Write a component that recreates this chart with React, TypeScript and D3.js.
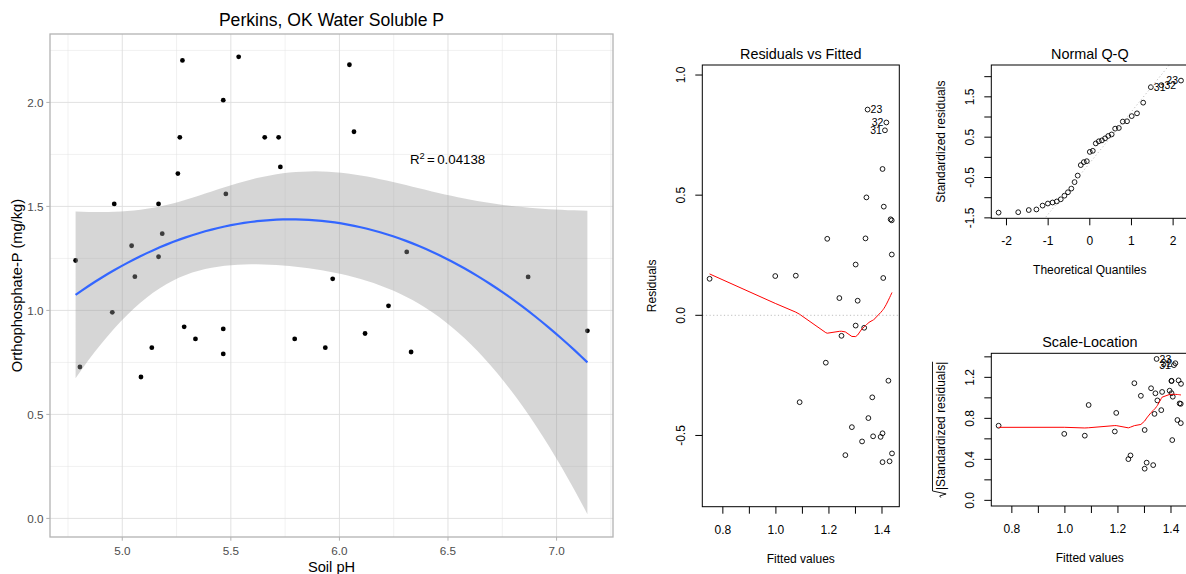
import React, { useMemo } from "react";
import * as d3 from "d3";

// Perkins, OK plots: soil pH and water-soluble orthophosphate-P (mg/kg), in plot order
const soilPH = [
  4.785, 4.805, 4.954, 4.963, 5.043, 5.058, 5.086, 5.136, 5.167, 5.167,
  5.184, 5.256, 5.265, 5.285, 5.337, 5.465, 5.477, 5.465, 5.465, 5.656,
  5.72, 5.728, 5.277, 5.794, 5.935, 5.969, 6.067, 6.118, 6.226, 6.31,
  6.046, 5.536, 6.33, 6.869, 7.142,
];
const orthoP = [
  1.24, 0.728, 0.991, 1.512, 1.311, 1.162, 0.68, 0.821, 1.512, 1.258,
  1.369, 1.658, 1.832, 0.921, 0.863, 2.011, 1.56, 0.911, 0.791, 1.832,
  1.832, 1.69, 2.202, 0.863, 0.821, 1.152, 1.859, 0.889, 1.022, 1.281,
  2.181, 2.219, 0.8, 1.161, 0.902,
];

const plotTitle = "Perkins, OK Water Soluble P";
const rSquaredText = "0.04138";

// scatter panel breaks
const phMajor = [5.0, 5.5, 6.0, 6.5, 7.0];
const phMinor = [4.75, 5.25, 5.75, 6.25, 6.75, 7.25];
const pMajor = [0, 0.5, 1.0, 1.5, 2.0];
const pMinor = [0.25, 0.75, 1.25, 1.75, 2.25];

// diagnostic panel axes
const fittedTicks = [0.8, 0.9, 1.0, 1.1, 1.2, 1.3, 1.4];
const fittedLabels = [0.8, 1.0, 1.2, 1.4];
const residTicks = [-0.5, 0, 0.5, 1.0];
const quantTicks = [-2, -1, 0, 1, 2];
const stdResTicks = [-1.5, -1, -0.5, 0, 0.5, 1, 1.5, 2];
const stdResLabels = [-1.5, -0.5, 0.5, 1.5];
const sqrtTicks = [0, 0.2, 0.4, 0.6, 0.8, 1.0, 1.2, 1.4];
const sqrtLabels = [0, 0.4, 0.8, 1.2];

const ID_N = 3;
const T_CRIT = 2.0369; // qt(0.975, df = 32)

const FONT = "'Liberation Sans', Arial, sans-serif";

type Box = { x0: number; x1: number; y0: number; y1: number };

function invert3(m: number[][]): number[][] {
  const [a, b, c] = m[0];
  const [d, e, f] = m[1];
  const [g, h, i] = m[2];
  const A = e * i - f * h, B = -(d * i - f * g), C = d * h - e * g;
  const det = a * A + b * B + c * C;
  return [
    [A / det, -(b * i - c * h) / det, (b * f - c * e) / det],
    [B / det, (a * i - c * g) / det, -(a * f - c * d) / det],
    [C / det, -(a * h - b * g) / det, (a * e - b * d) / det],
  ];
}

// inverse normal CDF (Acklam)
function qnorm(p: number): number {
  const a = [-3.969683028665376e1, 2.209460984245205e2, -2.759285104469687e2, 1.38357751867269e2, -3.066479806614716e1, 2.506628277459239];
  const b = [-5.447609879822406e1, 1.615858368580409e2, -1.556989798598866e2, 6.680131188771972e1, -1.328068155288572e1];
  const c = [-7.784894002430293e-3, -3.223964580411365e-1, -2.400758277161838, -2.549732539343734, 4.374664141464968, 2.938163982698783];
  const d = [7.784695709041462e-3, 3.224671290700398e-1, 2.445134137142996, 3.754408661907416];
  const pl = 0.02425;
  if (p < pl) {
    const q = Math.sqrt(-2 * Math.log(p));
    return (((((c[0] * q + c[1]) * q + c[2]) * q + c[3]) * q + c[4]) * q + c[5]) / ((((d[0] * q + d[1]) * q + d[2]) * q + d[3]) * q + 1);
  }
  if (p > 1 - pl) {
    const q = Math.sqrt(-2 * Math.log(1 - p));
    return -(((((c[0] * q + c[1]) * q + c[2]) * q + c[3]) * q + c[4]) * q + c[5]) / ((((d[0] * q + d[1]) * q + d[2]) * q + d[3]) * q + 1);
  }
  const q = p - 0.5, r = q * q;
  return ((((((a[0] * r + a[1]) * r + a[2]) * r + a[3]) * r + a[4]) * r + a[5]) * q) / (((((b[0] * r + b[1]) * r + b[2]) * r + b[3]) * r + b[4]) * r + 1);
}

// locally weighted scatterplot smoothing, as in clowess
function lowess(xIn: number[], yIn: number[], f = 2 / 3, nsteps = 3): [number, number][] {
  const order = d3.range(xIn.length).sort((p, q) => xIn[p] - xIn[q]);
  const x = order.map((k) => xIn[k]);
  const y = order.map((k) => yIn[k]);
  const n = x.length;
  const delta = 0.01 * (x[n - 1] - x[0]);
  const ns = Math.max(2, Math.min(n, Math.floor(f * n + 1e-7)));
  const ys = new Array(n).fill(0);
  const rw = new Array(n).fill(1);
  const res = new Array(n).fill(0);
  const w = new Array(n).fill(0);
  const range = x[n - 1] - x[0];

  const lowest = (xs: number, nleft: number, nright: number, userw: boolean): number | null => {
    const h = Math.max(xs - x[nleft], x[nright] - xs);
    const h9 = 0.999 * h, h1 = 0.001 * h;
    let a = 0;
    let j = nleft;
    while (j < n) {
      w[j] = 0;
      const r = Math.abs(x[j] - xs);
      if (r <= h9) {
        w[j] = r <= h1 ? 1 : Math.pow(1 - Math.pow(r / h, 3), 3);
        if (userw) w[j] *= rw[j];
        a += w[j];
      } else if (x[j] > xs) break;
      j++;
    }
    const nrt = j - 1;
    if (a <= 0) return null;
    for (let k = nleft; k <= nrt; k++) w[k] /= a;
    if (h > 0) {
      let ctr = 0;
      for (let k = nleft; k <= nrt; k++) ctr += w[k] * x[k];
      let bb = xs - ctr;
      let cc = 0;
      for (let k = nleft; k <= nrt; k++) cc += w[k] * (x[k] - ctr) * (x[k] - ctr);
      if (Math.sqrt(cc) > 0.001 * range) {
        bb /= cc;
        for (let k = nleft; k <= nrt; k++) w[k] *= bb * (x[k] - ctr) + 1;
      }
    }
    let out = 0;
    for (let k = nleft; k <= nrt; k++) out += w[k] * y[k];
    return out;
  };

  for (let iter = 1; iter <= nsteps + 1; iter++) {
    let nleft = 0, nright = ns - 1, last = -1, i = 0;
    for (;;) {
      if (nright < n - 1) {
        const d1 = x[i] - x[nleft];
        const d2 = x[nright + 1] - x[i];
        if (d1 > d2) {
          nleft++;
          nright++;
          continue;
        }
      }
      const v = lowest(x[i], nleft, nright, iter > 1);
      ys[i] = v === null ? y[i] : v;
      if (last < i - 1) {
        const denom = x[i] - x[last];
        for (let j = last + 1; j < i; j++) {
          const alpha = (x[j] - x[last]) / denom;
          ys[j] = alpha * ys[i] + (1 - alpha) * ys[last];
        }
      }
      last = i;
      const cut = x[last] + delta;
      for (i = last + 1; i < n; i++) {
        if (x[i] > cut) break;
        if (x[i] === x[last]) {
          ys[i] = ys[last];
          last = i;
        }
      }
      i = Math.max(last + 1, i - 1);
      if (last >= n - 1) break;
    }
    for (let k = 0; k < n; k++) res[k] = y[k] - ys[k];
    const sc = d3.sum(res, (r) => Math.abs(r)) / n;
    if (iter > nsteps) break;
    const absr = res.map((r) => Math.abs(r));
    const sorted = absr.slice().sort((p, q) => p - q);
    const m1 = Math.floor(n / 2);
    const cmad = n % 2 === 0 ? 3 * (sorted[m1] + sorted[n - m1 - 1]) : 6 * sorted[m1];
    if (cmad < 1e-7 * sc) break;
    const c9 = 0.999 * cmad, c1 = 0.001 * cmad;
    for (let k = 0; k < n; k++) {
      const r = absr[k];
      rw[k] = r <= c1 ? 1 : r <= c9 ? Math.pow(1 - Math.pow(r / cmad, 2), 2) : 0;
    }
  }
  return x.map((xv, k) => [xv, ys[k]] as [number, number]);
}

// quadratic least-squares fit of P on pH, with leverages and a 95% band
function fitModel(xs: number[], ys: number[]) {
  const n = xs.length;
  const xm = d3.mean(xs) as number;
  const basis = (x: number) => [1, x - xm, (x - xm) * (x - xm)];
  const XtX = [[0, 0, 0], [0, 0, 0], [0, 0, 0]];
  const Xty = [0, 0, 0];
  xs.forEach((x, i) => {
    const bv = basis(x);
    for (let r = 0; r < 3; r++) {
      Xty[r] += bv[r] * ys[i];
      for (let c = 0; c < 3; c++) XtX[r][c] += bv[r] * bv[c];
    }
  });
  const inv = invert3(XtX);
  const coef = inv.map((row) => row[0] * Xty[0] + row[1] * Xty[1] + row[2] * Xty[2]);
  const predict = (x: number) => {
    const bv = basis(x);
    return coef[0] * bv[0] + coef[1] * bv[1] + coef[2] * bv[2];
  };
  const leverage = (x: number) => {
    const bv = basis(x);
    let s = 0;
    for (let r = 0; r < 3; r++) for (let c = 0; c < 3; c++) s += bv[r] * inv[r][c] * bv[c];
    return s;
  };
  const fitted = xs.map(predict);
  const resid = ys.map((y, i) => y - fitted[i]);
  const sigma = Math.sqrt(d3.sum(resid, (r) => r * r) / (n - 3));
  const stdRes = resid.map((r, i) => r / (sigma * Math.sqrt(1 - leverage(xs[i]))));
  const [lo, hi] = d3.extent(xs) as [number, number];
  const band = d3.range(80).map((k) => {
    const x = lo + ((hi - lo) * k) / 79;
    const fit = predict(x);
    const se = sigma * Math.sqrt(leverage(x));
    return { x, fit, lower: fit - T_CRIT * se, upper: fit + T_CRIT * se };
  });
  return { fitted, resid, stdRes, band };
}

const extend = (r: [number, number], f: number): [number, number] => {
  const d = r[1] - r[0];
  return [r[0] - f * d, r[1] + f * d];
};

function textWidth(str: string, size: number) {
  const ctx = typeof document !== "undefined" ? document.createElement("canvas").getContext("2d") : null;
  if (!ctx) return str.length * size * 0.5;
  ctx.font = `${size}px "Liberation Sans", Arial, sans-serif`;
  return ctx.measureText(str).width;
}

const fmt1 = (v: number) => v.toFixed(1);
const fmtInt = (v: number) => String(v);

type PanelProps = {
  id: string;
  box: Box;
  x: d3.ScaleLinear<number, number>;
  y: d3.ScaleLinear<number, number>;
  xTicks: number[];
  xLabels: number[];
  yTicks: number[];
  yLabels: number[];
  fmtX: (v: number) => string;
  fmtY: (v: number) => string;
  caption: string;
  xTitle: string;
  yTitle: React.ReactNode;
  children: React.ReactNode;
};

function BasePanel(p: PanelProps) {
  const { box, x, y } = p;
  const tick = 7;
  return (
    <g fontFamily={FONT} fill="#000">
      <defs>
        <clipPath id={p.id}>
          <rect x={box.x0} y={box.y0} width={box.x1 - box.x0} height={box.y1 - box.y0} />
        </clipPath>
      </defs>
      <g clipPath={`url(#${p.id})`}>{p.children}</g>
      <rect x={box.x0} y={box.y0} width={box.x1 - box.x0} height={box.y1 - box.y0} fill="none" stroke="#000" strokeWidth={1} />
      {p.xTicks.map((t) => (
        <line key={`xt${t}`} x1={x(t)} x2={x(t)} y1={box.y1} y2={box.y1 + tick} stroke="#000" />
      ))}
      {p.xLabels.map((t) => (
        <text key={`xl${t}`} x={x(t)} y={box.y1 + 27} textAnchor="middle" fontSize={12}>
          {p.fmtX(t)}
        </text>
      ))}
      {p.yTicks.map((t) => (
        <line key={`yt${t}`} x1={box.x0 - tick} x2={box.x0} y1={y(t)} y2={y(t)} stroke="#000" />
      ))}
      {p.yLabels.map((t) => (
        <text key={`yl${t}`} transform={`translate(${box.x0 - 17},${y(t)}) rotate(-90)`} textAnchor="middle" fontSize={12}>
          {p.fmtY(t)}
        </text>
      ))}
      <text x={(box.x0 + box.x1) / 2} y={box.y0 - 6} textAnchor="middle" fontSize={14.4}>
        {p.caption}
      </text>
      <text x={(box.x0 + box.x1) / 2} y={box.y1 + 56} textAnchor="middle" fontSize={12}>
        {p.xTitle}
      </text>
      <g transform={`translate(${box.x0 - 46},${(box.y0 + box.y1) / 2}) rotate(-90)`}>{p.yTitle}</g>
    </g>
  );
}

function idLabels(px: number[], py: number[], ids: number[], x: d3.ScaleLinear<number, number>, y: d3.ScaleLinear<number, number>) {
  const xs = ids.map((i) => px[i]);
  const mid = ((d3.min(xs) as number) + (d3.max(xs) as number)) / 2;
  return ids.map((i) => {
    const left = px[i] > mid;
    return (
      <text
        key={`id${i}`}
        x={x(px[i]) + (left ? -3 : 3)}
        y={y(py[i]) + 3.6}
        textAnchor={left ? "end" : "start"}
        fontSize={10.5}
        fontFamily={FONT}
      >
        {i + 1}
      </text>
    );
  });
}

export default function App() {
  const model = useMemo(() => fitModel(soilPH, orthoP), []);
  const { fitted, resid, stdRes, band } = model;
  const n = soilPH.length;

  // ---------- scatter with quadratic smooth ----------
  const gp = { left: 50, right: 613, top: 34, bottom: 537 };
  const phExt = d3.extent(soilPH) as [number, number];
  const gx = d3.scaleLinear().domain(extend(phExt, 0.05)).range([gp.left, gp.right]);
  const pLo = Math.min(d3.min(orthoP) as number, d3.min(band, (d) => d.lower) as number);
  const pHi = Math.max(d3.max(orthoP) as number, d3.max(band, (d) => d.upper) as number);
  const gy = d3.scaleLinear().domain(extend([pLo, pHi], 0.05)).range([gp.bottom, gp.top]);
  const ribbon = d3
    .area<(typeof band)[number]>()
    .x((d) => gx(d.x))
    .y0((d) => gy(d.lower))
    .y1((d) => gy(d.upper))(band) as string;
  const fitLine = d3
    .line<(typeof band)[number]>()
    .x((d) => gx(d.x))
    .y((d) => gy(d.fit))(band) as string;

  // ---------- residuals vs fitted ----------
  const rfBox: Box = { x0: 702.3, x1: 899.3, y0: 65, y1: 506.7 };
  const fitExt = d3.extent(fitted) as [number, number];
  const rfx = d3.scaleLinear().domain(extend(fitExt, 0.04)).range([rfBox.x0, rfBox.x1]);
  const rfy = d3
    .scaleLinear()
    .domain(extend(extend(d3.extent(resid) as [number, number], 0.08), 0.04))
    .range([rfBox.y1, rfBox.y0]);
  const idRes = d3.range(n).sort((a, b) => Math.abs(resid[b]) - Math.abs(resid[a])).slice(0, ID_N);
  const rfSmooth = d3.line().x((d) => rfx(d[0])).y((d) => rfy(d[1]))(lowess(fitted, resid)) as string;

  // ---------- normal Q-Q ----------
  const qqBox: Box = { x0: 991.3, x1: 1188.3, y0: 65, y1: 218.3 };
  const rank = new Array(n);
  d3.range(n)
    .sort((a, b) => stdRes[a] - stdRes[b])
    .forEach((idx, r) => (rank[idx] = r));
  const theo = stdRes.map((_, i) => qnorm((rank[i] + 1 - 0.5) / n));
  const qqyRange = d3.extent(stdRes) as [number, number];
  const qqyLim: [number, number] = [qqyRange[0], qqyRange[1] + (qqyRange[1] - qqyRange[0]) * 0.075];
  const qqx = d3.scaleLinear().domain(extend(d3.extent(theo) as [number, number], 0.04)).range([qqBox.x0, qqBox.x1]);
  const qqy = d3.scaleLinear().domain(extend(qqyLim, 0.04)).range([qqBox.y1, qqBox.y0]);
  const q1 = d3.quantile(stdRes, 0.25) as number;
  const q3 = d3.quantile(stdRes, 0.75) as number;
  const z1 = qnorm(0.25), z3 = qnorm(0.75);
  const slope = (q3 - q1) / (z3 - z1);
  const intercept = q1 - slope * z1;
  const idStd = d3.range(n).sort((a, b) => Math.abs(stdRes[b]) - Math.abs(stdRes[a])).slice(0, ID_N);
  const qqDom = qqx.domain();

  // ---------- scale-location ----------
  const slBox: Box = { x0: 991.3, x1: 1188.3, y0: 353.3, y1: 506 };
  const sqrtAbs = stdRes.map((r) => Math.sqrt(Math.abs(r)));
  const slx = d3.scaleLinear().domain(extend(fitExt, 0.04)).range([slBox.x0, slBox.x1]);
  const sly = d3.scaleLinear().domain(extend([0, d3.max(sqrtAbs) as number], 0.04)).range([slBox.y1, slBox.y0]);
  const slSmooth = d3.line().x((d) => slx(d[0])).y((d) => sly(d[1]))(lowess(fitted, sqrtAbs)) as string;

  const inner = "|Standardized residuals|";
  const innerW = textWidth(inner, 12);
  const radW = 7.5;
  const start = -(innerW + radW) / 2;
  const sqrtTitle = (
    <g fontFamily={FONT}>
      <path
        d={`M${start},-4.5 L${start + 1.6},-5.6 L${start + 3.6},0.8 L${start + 6.6},-12.8 L${start + radW + innerW},-12.8`}
        fill="none"
        stroke="#000"
        strokeWidth={0.9}
      />
      <text x={start + radW} y={0} fontSize={12}>
        {inner}
      </text>
    </g>
  );

  const pointStyle = { fill: "none", stroke: "#000", strokeWidth: 0.9 };

  return (
    <svg
      width={1186}
      height={574}
      style={{ position: "absolute", left: 0, top: 0, background: "#fff" }}
      fontFamily={FONT}
    >
      <rect x={0} y={0} width={1186} height={574} fill="#fff" />

      {/* scatter panel */}
      <defs>
        <clipPath id="gpClip">
          <rect x={gp.left} y={gp.top} width={gp.right - gp.left} height={gp.bottom - gp.top} />
        </clipPath>
      </defs>
      <g clipPath="url(#gpClip)">
        {phMinor.map((v) => (
          <line key={`xm${v}`} x1={gx(v)} x2={gx(v)} y1={gp.top} y2={gp.bottom} stroke="#e3e3e3" strokeWidth={0.5} />
        ))}
        {pMinor.map((v) => (
          <line key={`ym${v}`} x1={gp.left} x2={gp.right} y1={gy(v)} y2={gy(v)} stroke="#e3e3e3" strokeWidth={0.5} />
        ))}
        {phMajor.map((v) => (
          <line key={`xM${v}`} x1={gx(v)} x2={gx(v)} y1={gp.top} y2={gp.bottom} stroke="#dedede" strokeWidth={0.9} />
        ))}
        {pMajor.map((v) => (
          <line key={`yM${v}`} x1={gp.left} x2={gp.right} y1={gy(v)} y2={gy(v)} stroke="#dedede" strokeWidth={0.9} />
        ))}
        {soilPH.map((v, i) => (
          <circle key={`pt${i}`} cx={gx(v)} cy={gy(orthoP[i])} r={2.4} fill="#000" />
        ))}
        <path d={ribbon} fill="#999999" fillOpacity={0.4} />
        <path d={fitLine} fill="none" stroke="#3366FF" strokeWidth={2.2} />
      </g>
      <rect x={gp.left} y={gp.top} width={gp.right - gp.left} height={gp.bottom - gp.top} fill="none" stroke="#b3b3b3" strokeWidth={1.3} />
      {phMajor.map((v) => (
        <g key={`xa${v}`}>
          <line x1={gx(v)} x2={gx(v)} y1={gp.bottom} y2={gp.bottom + 3.7} stroke="#b3b3b3" strokeWidth={1} />
          <text x={gx(v)} y={555} textAnchor="middle" fontSize={11.7} fill="#4d4d4d">
            {fmt1(v)}
          </text>
        </g>
      ))}
      {pMajor.map((v) => (
        <g key={`ya${v}`}>
          <line x1={gp.left - 3.7} x2={gp.left} y1={gy(v)} y2={gy(v)} stroke="#b3b3b3" strokeWidth={1} />
          <text x={43.5} y={gy(v) + 4.1} textAnchor="end" fontSize={11.7} fill="#4d4d4d">
            {fmt1(v)}
          </text>
        </g>
      ))}
      <text x={(gp.left + gp.right) / 2} y={26} textAnchor="middle" fontSize={17.6}>
        {plotTitle}
      </text>
      <text x={(gp.left + gp.right) / 2} y={571.5} textAnchor="middle" fontSize={14.67}>
        Soil pH
      </text>
      <text transform={`translate(22,${(gp.top + gp.bottom) / 2}) rotate(-90)`} textAnchor="middle" fontSize={14.67}>
        Orthophosphate-P (mg/kg)
      </text>
      <text x={410} y={164} fontSize={13.3}>
        <tspan>R</tspan>
        <tspan dy={-5.5} fontSize={9.3}>
          2
        </tspan>
        <tspan dy={5.5} dx={2.2}>
          =
        </tspan>
        <tspan dx={2.4}>{rSquaredText}</tspan>
      </text>

      {/* residuals vs fitted */}
      <BasePanel
        id="rfClip"
        box={rfBox}
        x={rfx}
        y={rfy}
        xTicks={fittedTicks}
        xLabels={fittedLabels}
        yTicks={residTicks}
        yLabels={residTicks}
        fmtX={fmt1}
        fmtY={fmt1}
        caption="Residuals vs Fitted"
        xTitle="Fitted values"
        yTitle={
          <text x={0} y={0} textAnchor="middle" fontSize={12} fontFamily={FONT}>
            Residuals
          </text>
        }
      >
        {fitted.map((f, i) => (
          <circle key={`rf${i}`} cx={rfx(f)} cy={rfy(resid[i])} r={2.4} {...pointStyle} />
        ))}
        <path d={rfSmooth} fill="none" stroke="#ff0000" strokeWidth={1} />
        <line x1={rfBox.x0} x2={rfBox.x1} y1={rfy(0)} y2={rfy(0)} stroke="#bebebe" strokeDasharray="1.2 2.4" strokeWidth={1} />
      </BasePanel>
      {idLabels(fitted, resid, idRes, rfx, rfy)}

      {/* normal Q-Q */}
      <BasePanel
        id="qqClip"
        box={qqBox}
        x={qqx}
        y={qqy}
        xTicks={quantTicks}
        xLabels={quantTicks}
        yTicks={stdResTicks}
        yLabels={stdResLabels}
        fmtX={fmtInt}
        fmtY={fmt1}
        caption="Normal Q-Q"
        xTitle="Theoretical Quantiles"
        yTitle={
          <text x={0} y={0} textAnchor="middle" fontSize={12} fontFamily={FONT}>
            Standardized residuals
          </text>
        }
      >
        {theo.map((q, i) => (
          <circle key={`qq${i}`} cx={qqx(q)} cy={qqy(stdRes[i])} r={2.4} {...pointStyle} />
        ))}
        <line
          x1={qqx(qqDom[0])}
          x2={qqx(qqDom[1])}
          y1={qqy(intercept + slope * qqDom[0])}
          y2={qqy(intercept + slope * qqDom[1])}
          stroke="#bebebe"
          strokeDasharray="1.2 2.4"
          strokeWidth={1}
        />
      </BasePanel>
      {idLabels(theo, stdRes, idStd, qqx, qqy)}

      {/* scale-location */}
      <BasePanel
        id="slClip"
        box={slBox}
        x={slx}
        y={sly}
        xTicks={fittedTicks}
        xLabels={fittedLabels}
        yTicks={sqrtTicks}
        yLabels={sqrtLabels}
        fmtX={fmt1}
        fmtY={fmt1}
        caption="Scale-Location"
        xTitle="Fitted values"
        yTitle={sqrtTitle}
      >
        {fitted.map((f, i) => (
          <circle key={`sl${i}`} cx={slx(f)} cy={sly(sqrtAbs[i])} r={2.4} {...pointStyle} />
        ))}
        <path d={slSmooth} fill="none" stroke="#ff0000" strokeWidth={1} />
      </BasePanel>
      {idLabels(fitted, sqrtAbs, idStd, slx, sly)}
    </svg>
  );
}
